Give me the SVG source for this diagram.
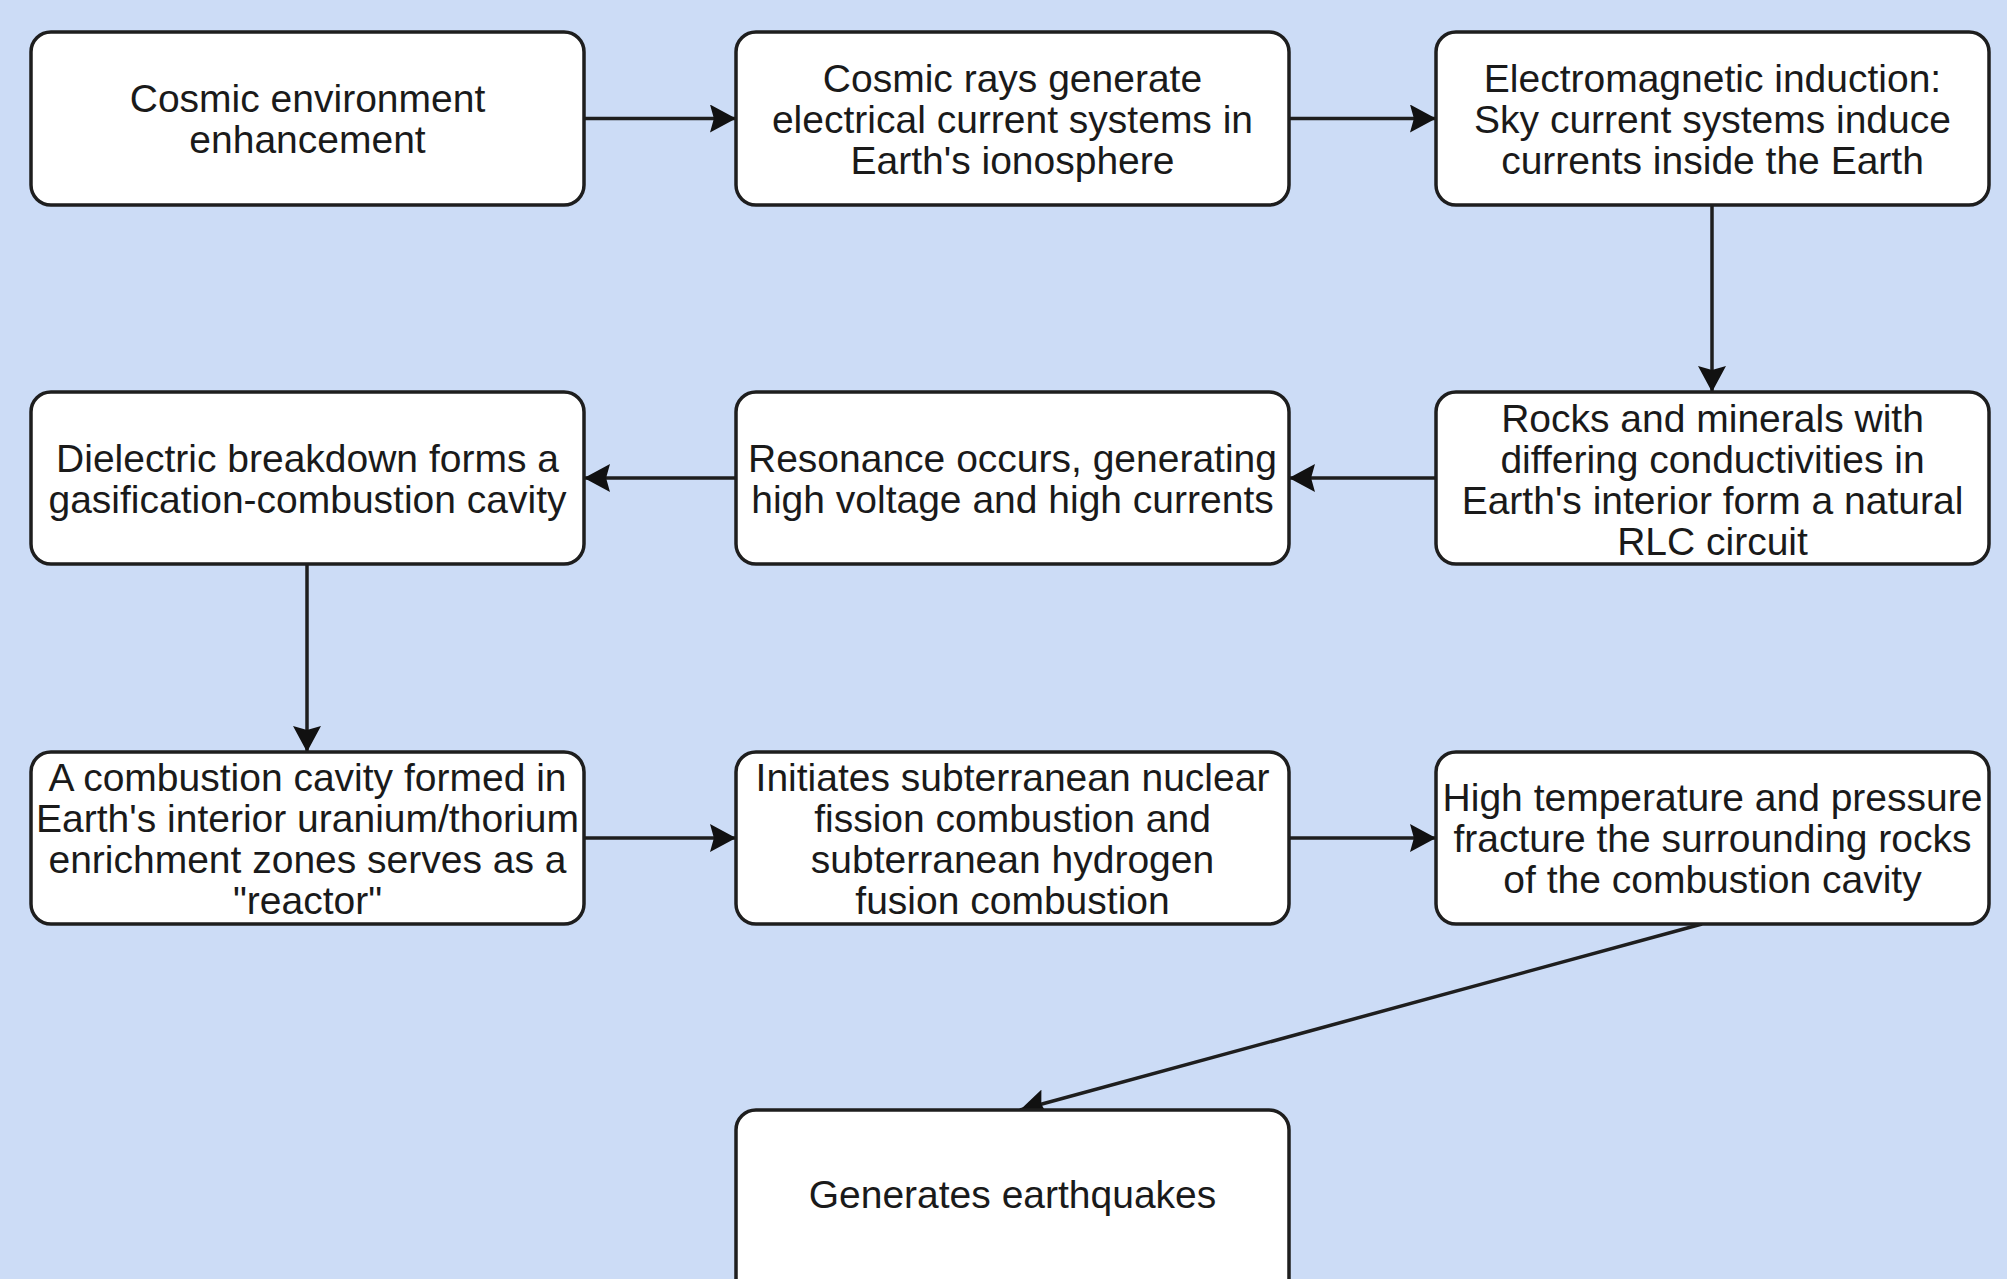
<svg xmlns="http://www.w3.org/2000/svg" width="2007" height="1279" viewBox="0 0 2007 1279">
<style>
.box{fill:#ffffff;stroke:#1e1e1e;stroke-width:3.5}
.t{font-family:"Liberation Sans",Arial,sans-serif;font-size:39px;fill:#1a1a1a;text-anchor:middle}
.c{stroke:#1e1e1e;stroke-width:3.5;fill:none}
</style>
<defs>
<marker id="ah" viewBox="0 0 10 10" refX="10" refY="5" markerUnits="userSpaceOnUse" markerWidth="26" markerHeight="28" orient="auto" preserveAspectRatio="none">
<path d="M0,0 L10,5 L0,10 L1.5,5 Z" fill="#111111"/>
</marker>
</defs>
<rect x="0" y="0" width="2007" height="1279" fill="#ccdcf6"/>
<g id="connectors">
<line class="c" x1="584" y1="118.5" x2="736" y2="118.5" marker-end="url(#ah)"/>
<line class="c" x1="1289" y1="118.5" x2="1436" y2="118.5" marker-end="url(#ah)"/>
<line class="c" x1="1712" y1="205" x2="1712" y2="392" marker-end="url(#ah)"/>
<line class="c" x1="1436" y1="478" x2="1289" y2="478" marker-end="url(#ah)"/>
<line class="c" x1="736" y1="478" x2="584" y2="478" marker-end="url(#ah)"/>
<line class="c" x1="307" y1="564" x2="307" y2="752" marker-end="url(#ah)"/>
<line class="c" x1="584" y1="838" x2="736" y2="838" marker-end="url(#ah)"/>
<line class="c" x1="1289" y1="838" x2="1436" y2="838" marker-end="url(#ah)"/>
<line class="c" x1="1702" y1="924" x2="1020" y2="1110" marker-end="url(#ah)"/>
</g>
<g id="n1"><rect class="box" x="31" y="32" width="553" height="173" rx="20"/>
<text class="t" x="307.5" y="112">Cosmic environment</text><text class="t" x="307.5" y="153">enhancement</text></g>
<g id="n2"><rect class="box" x="736" y="32" width="553" height="173" rx="20"/>
<text class="t" x="1012.5" y="92">Cosmic rays generate</text><text class="t" x="1012.5" y="133">electrical current systems in</text><text class="t" x="1012.5" y="174">Earth's ionosphere</text></g>
<g id="n3"><rect class="box" x="1436" y="32" width="553" height="173" rx="20"/>
<text class="t" x="1712.5" y="92">Electromagnetic induction:</text><text class="t" x="1712.5" y="133">Sky current systems induce</text><text class="t" x="1712.5" y="174">currents inside the Earth</text></g>
<g id="n4"><rect class="box" x="31" y="392" width="553" height="172" rx="20"/>
<text class="t" x="307.5" y="471.5">Dielectric breakdown forms a</text><text class="t" x="307.5" y="512.5">gasification-combustion cavity</text></g>
<g id="n5"><rect class="box" x="736" y="392" width="553" height="172" rx="20"/>
<text class="t" x="1012.5" y="471.5">Resonance occurs, generating</text><text class="t" x="1012.5" y="512.5">high voltage and high currents</text></g>
<g id="n6"><rect class="box" x="1436" y="392" width="553" height="172" rx="20"/>
<text class="t" x="1712.5" y="432">Rocks and minerals with</text><text class="t" x="1712.5" y="473">differing conductivities in</text><text class="t" x="1712.5" y="514">Earth's interior form a natural</text><text class="t" x="1712.5" y="555">RLC circuit</text></g>
<g id="n7"><rect class="box" x="31" y="752" width="553" height="172" rx="20"/>
<text class="t" x="307.5" y="791">A combustion cavity formed in</text><text class="t" x="307.5" y="832">Earth's interior uranium/thorium</text><text class="t" x="307.5" y="873">enrichment zones serves as a</text><text class="t" x="307.5" y="914">"reactor"</text></g>
<g id="n8"><rect class="box" x="736" y="752" width="553" height="172" rx="20"/>
<text class="t" x="1012.5" y="791">Initiates subterranean nuclear</text><text class="t" x="1012.5" y="832">fission combustion and</text><text class="t" x="1012.5" y="873">subterranean hydrogen</text><text class="t" x="1012.5" y="914">fusion combustion</text></g>
<g id="n9"><rect class="box" x="1436" y="752" width="553" height="172" rx="20"/>
<text class="t" x="1712.5" y="811">High temperature and pressure</text><text class="t" x="1712.5" y="852">fracture the surrounding rocks</text><text class="t" x="1712.5" y="893">of the combustion cavity</text></g>
<g id="n10"><rect class="box" x="736" y="1110" width="553" height="190" rx="20"/>
<text class="t" x="1012.5" y="1208">Generates earthquakes</text></g>
</svg>
